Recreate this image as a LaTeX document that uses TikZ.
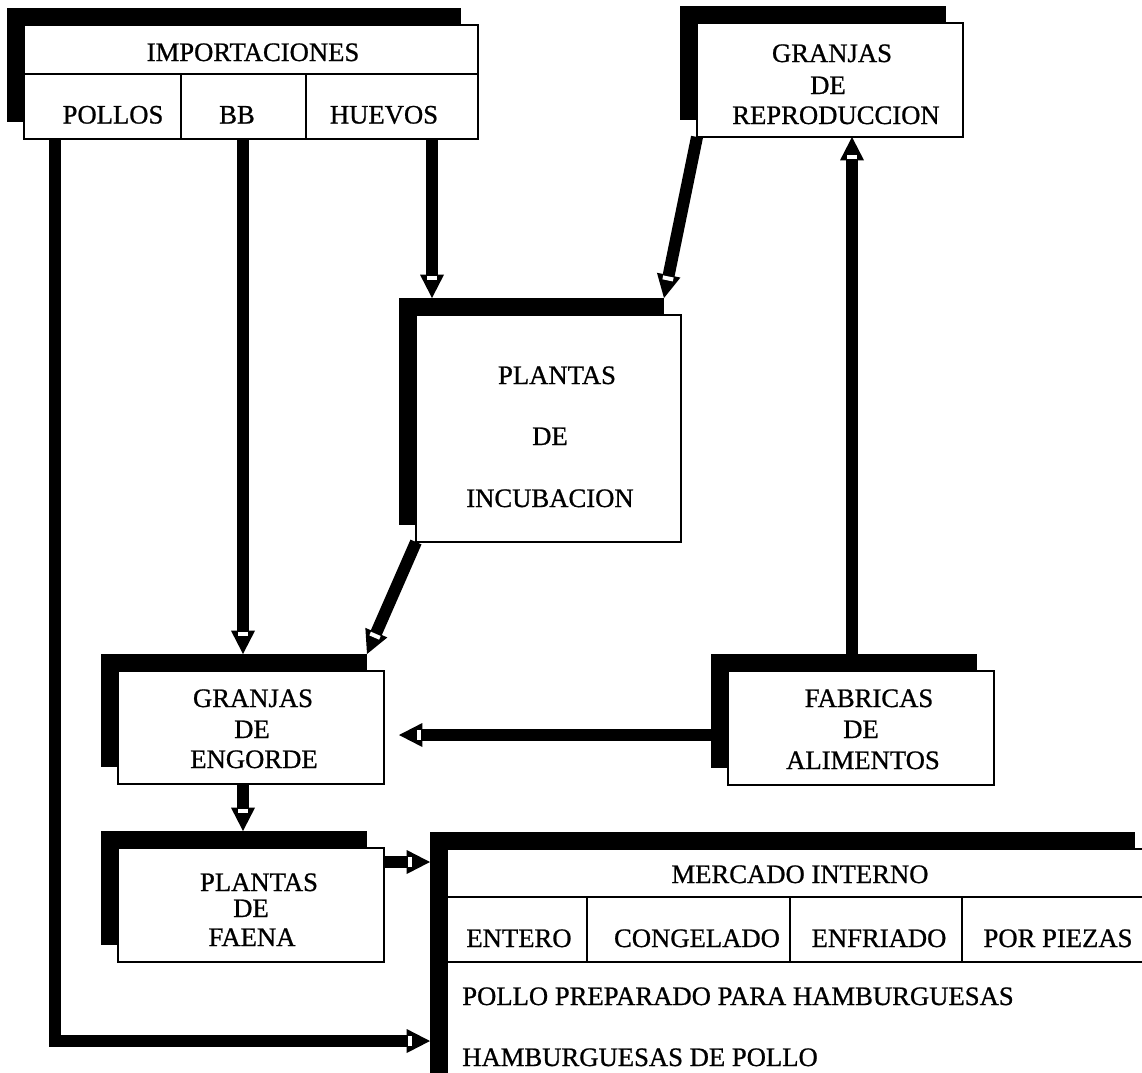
\documentclass[tikz,border=0pt]{standalone}
\usepackage{fontspec}
\setmainfont{Liberation Serif}[RawFeature={embolden=0.8}]
\usetikzlibrary{calc,arrows.meta}

\pgfdeclarearrow{
  name = FlowTip,
  parameters = {},
  setup code = {
    \pgfarrowssettipend{0pt}
    \pgfarrowssetbackend{-17.5pt}
    \pgfarrowssetlineend{-15pt}
    \pgfarrowssetvisualbackend{-17.5pt}
  },
  drawing code = {
    \pgfpathmoveto{\pgfpoint{0pt}{0pt}}
    \pgfpathlineto{\pgfpoint{-17.5pt}{9pt}}
    \pgfpathlineto{\pgfpoint{-17.5pt}{-9pt}}
    \pgfpathclose
    \pgfsetfillcolor{black}
    \pgfusepathqfill
    \pgfpathrectangle{\pgfpoint{-16.5pt}{-4pt}}{\pgfpoint{3pt}{8pt}}
    \pgfsetfillcolor{white}
    \pgfusepathqfill
  }
}

\tikzset{
  shadowbox/.style={fill=black, draw=none, inner sep=0pt, outer sep=0pt},
  whitebox/.style={fill=white, draw=black, line width=1.2pt, inner sep=0pt, outer sep=0pt},
  lbl/.style={font=\fontsize{20}{23}\selectfont, anchor=base, inner sep=0pt},
  lblw/.style={lbl, anchor=base west},
  divider/.style={line width=1.2pt},
  flow/.style={line width=9pt, -{FlowTip}, line join=miter},
}

\newcommand{\dgbox}[5]{%
  \pgfmathsetmacro{\bw}{(#4-#2)*0.75}%
  \pgfmathsetmacro{\bh}{(#5-#3)*0.75}%
  \node[shadowbox, anchor=north west, minimum width=\bw pt, minimum height=\bh pt] (#1S) at (#2-17,#3-17) {};
  \node[whitebox, anchor=north west, minimum width=\bw pt, minimum height=\bh pt] (#1) at (#2,#3) {};
}

\begin{document}
\begin{tikzpicture}[x=0.75pt, y=-0.75pt]
\useasboundingbox (0,0) rectangle (1142,1072);
\fill[white] (0,0) rectangle (1142,1072);

% boxes
\dgbox{imp}{24}{25}{478}{139}
\dgbox{rep}{697}{23}{963}{137}
\dgbox{inc}{416}{315}{681}{542}
\dgbox{eng}{118}{671}{384}{784}
\dgbox{fae}{118}{848}{384}{962}
\dgbox{fab}{728}{671}{994}{785}
\dgbox{mer}{447}{849}{1152}{1090}

% internal dividers
\draw[divider] (imp.west |- 0,74) -- (imp.east |- 0,74);
\draw[divider] (181,74) -- (imp.south -| 181,0);
\draw[divider] (306,74) -- (imp.south -| 306,0);
\draw[divider] (mer.west |- 0,897) -- (mer.east |- 0,897);
\draw[divider] (mer.west |- 0,962) -- (mer.east |- 0,962);
\draw[divider] (587,897) -- (587,962);
\draw[divider] (790,897) -- (790,962);
\draw[divider] (962,897) -- (962,962);

% texts
\node[lbl] (tImp) at (253,61) {IMPORTACIONES};
\node[lbl] (tPol) at (113,123.5) {POLLOS};
\node[lbl] (tBB) at (237,123.5) {BB};
\node[lbl] (tHue) at (384,123.5) {HUEVOS};

\node[lbl] (tRep1) at (832,62) {GRANJAS};
\node[lbl] (tRep2) at (828,94) {DE};
\node[lbl] (tRep3) at (836,124) {REPRODUCCION};

\node[lbl] (tInc1) at (557,384) {PLANTAS};
\node[lbl] (tInc2) at (550,445) {DE};
\node[lbl] (tInc3) at (550,507) {INCUBACION};

\node[lbl] (tEng1) at (253,707) {GRANJAS};
\node[lbl] (tEng2) at (252,738) {DE};
\node[lbl] (tEng3) at (254,768) {ENGORDE};

\node[lbl] (tFae1) at (259,891) {PLANTAS};
\node[lbl] (tFae2) at (251,917) {DE};
\node[lbl] (tFae3) at (252,946) {FAENA};

\node[lbl] (tFab1) at (869,707) {FABRICAS};
\node[lbl] (tFab2) at (861,738) {DE};
\node[lbl] (tFab3) at (863,769) {ALIMENTOS};

\node[lbl] (tMer) at (800,883) {MERCADO INTERNO};
\node[lbl] (tEnt) at (519,947) {ENTERO};
\node[lbl] (tCon) at (697,947) {CONGELADO};
\node[lbl] (tEnf) at (879,947) {ENFRIADO};
\node[lbl] (tPie) at (1058,947) {POR PIEZAS};
\node[lblw] (tPre) at (462,1005) {POLLO PREPARADO PARA HAMBURGUESAS};
\node[lblw] (tHam) at (462,1066) {HAMBURGUESAS DE POLLO};

% connectors
\coordinate (engR) at ($(eng.east)+(15,7.5)$);
\draw[flow] (imp.south -| 432,0) -- (incS.north -| 432,0);
\draw[flow] (rep.south west) -- (incS.north east);
\draw[flow] (fabS.north -| 852,0) -- (rep.south -| 852,0);
\draw[flow] (imp.south -| 243,0) -- (engS.north -| 243,0);
\draw[flow] (inc.south west) -- (engS.north east);
\draw[flow] (fabS.west |- engR) -- (engR);
\draw[flow] (eng.south -| 243,0) -- (faeS.north -| 243,0);
\draw[flow] (fae.east |- 0,862) -- (merS.west |- 0,862);
\draw[flow] (imp.south -| 55,0) |- (merS.west |- 0,1041);
\end{tikzpicture}
\end{document}
